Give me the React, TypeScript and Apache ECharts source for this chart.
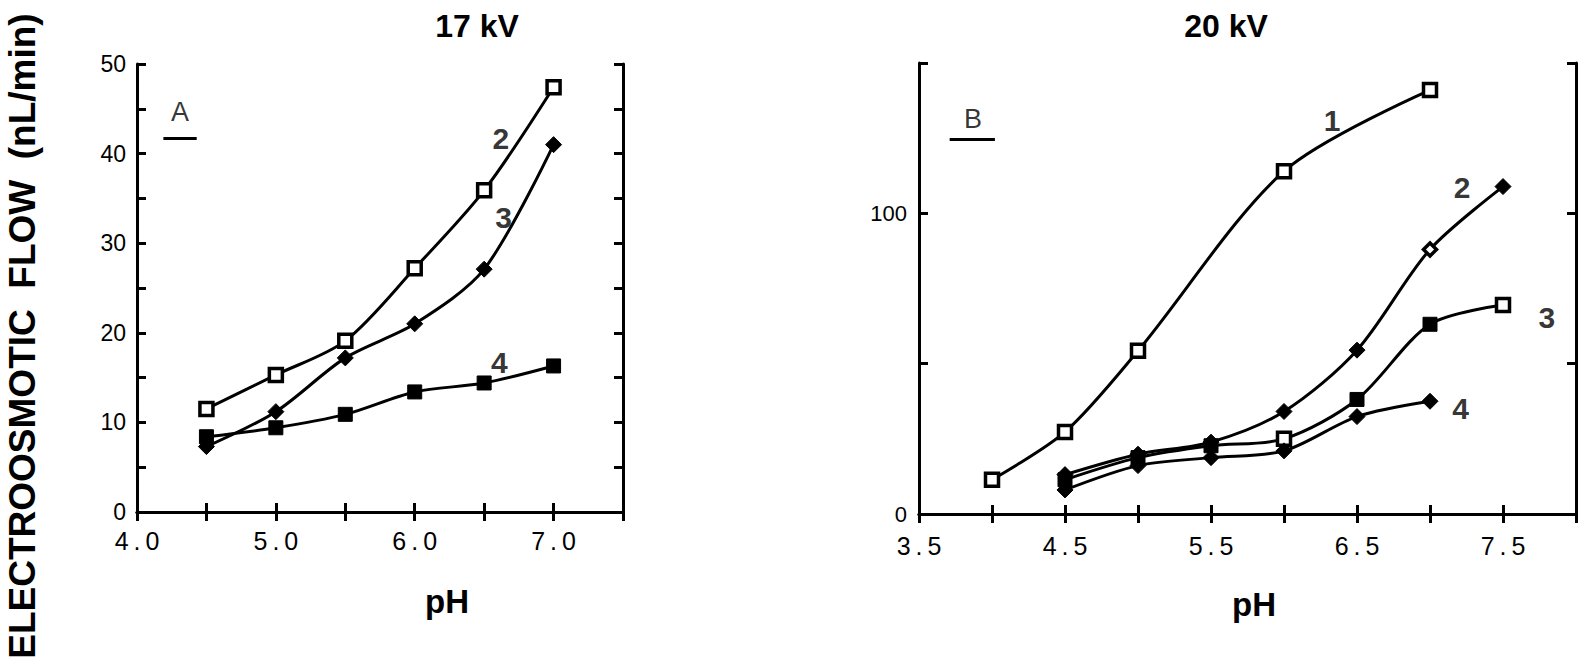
import React, { useEffect, useRef } from "react";
import * as echarts from "echarts";

// ---------- Data ----------
// Panel A (17 kV)
const pHA = [4.5, 5.0, 5.5, 6.0, 6.5, 7.0];
const flowA2 = [11.5, 15.3, 19.1, 27.2, 35.9, 47.4];
const flowA3 = [7.3, 11.2, 17.2, 21.0, 27.1, 41.0];
const flowA4 = [8.4, 9.4, 10.9, 13.4, 14.4, 16.3];

// Panel B (20 kV)
const pHB1 = [4.0, 4.5, 5.0, 6.0, 7.0];
const flowB1 = [11.4, 27.3, 54.3, 114, 141];
const pHB23 = [4.5, 5.0, 5.5, 6.0, 6.5, 7.0, 7.5];
const flowB2 = [13.1, 19.9, 23.9, 34.1, 54.5, 88, 108.9];
const openB2 = [5]; // hollow marker on curve 2
const flowB3 = [11.4, 18.75, 22.7, 25.0, 38.1, 63.1, 69.5];
const openB3 = [3, 6]; // hollow markers on curve 3
const pHB4 = [4.5, 5.0, 5.5, 6.0, 6.5, 7.0];
const flowB4 = [8.0, 16.1, 18.75, 21.0, 32.4, 37.5];

// Curve labels (data coordinates)
const labelsA = [
  { name: "2", pos: [6.62, 41.7] },
  { name: "3", pos: [6.64, 32.9] },
  { name: "4", pos: [6.61, 16.7] },
];
const labelsB = [
  { name: "1", pos: [6.33, 131] },
  { name: "2", pos: [7.22, 108.5] },
  { name: "3", pos: [7.8, 65.3] },
  { name: "4", pos: [7.21, 35.2] },
];
const panelTagA = { name: "A", pos: [4.31, 44.6], line: [4.19, 4.43, 41.7] };
const panelTagB = { name: "B", pos: [3.87, 131.5], line: [3.71, 4.02, 124.6] };

const titleA = "17 kV";
const titleB = "20 kV";
const xTitle = "pH";
const yTitle = "ELECTROOSMOTIC  FLOW  (nL/min)";

const FONT = "Liberation Sans";

function pts(xs: number[], ys: number[], open: number[] = [], openSymbol = "rect", openSize?: number) {
  return xs.map((x, i) =>
    open.indexOf(i) >= 0
      ? {
          value: [x, ys[i]],
          symbol: openSymbol,
          symbolSize: openSize,
          itemStyle: { color: "#fff", borderColor: "#000", borderWidth: 3.5 },
        }
      : { value: [x, ys[i]] }
  );
}

export default function App() {
  const ref = useRef<HTMLDivElement>(null);

  useEffect(() => {
    if (!ref.current) return;
    const chart = echarts.init(ref.current, undefined, { renderer: "svg" });

    const axisLine = { show: true, lineStyle: { color: "#000", width: 3 } };
    const tick = { show: true, inside: true, length: 9, lineStyle: { color: "#000", width: 3 } };

    const lineSeries = (
      name: string,
      xi: number,
      yi: number,
      data: any[],
      symbol: string,
      open: boolean,
      size: number
    ) => ({
      name,
      type: "line",
      xAxisIndex: xi,
      yAxisIndex: yi,
      data,
      smooth: 0.3,
      symbol,
      symbolSize: size,
      showSymbol: true,
      lineStyle: { color: "#000", width: 3 },
      itemStyle: open
        ? { color: "#fff", borderColor: "#000", borderWidth: 3.5 }
        : { color: "#000", borderColor: "#000", borderWidth: 1 },
      z: 3,
    });

    const annot = (
      xi: number,
      yi: number,
      items: { name: string; pos: number[] }[],
      tag: { name: string; pos: number[]; line: number[] }
    ) => [
      {
        type: "scatter",
        xAxisIndex: xi,
        yAxisIndex: yi,
        symbolSize: 1,
        itemStyle: { color: "rgba(0,0,0,0)" },
        data: items.map((it) => ({ name: it.name, value: it.pos })),
        label: {
          show: true,
          position: "inside",
          formatter: "{b}",
          color: "#000",
          textBorderWidth: 0,
          fontFamily: FONT,
          fontWeight: "bold",
          fontSize: 30,
        },
        silent: true,
      },
      {
        type: "scatter",
        xAxisIndex: xi,
        yAxisIndex: yi,
        symbolSize: 1,
        itemStyle: { color: "rgba(0,0,0,0)" },
        data: [{ name: tag.name, value: tag.pos }],
        label: {
          show: true,
          position: "inside",
          formatter: "{b}",
          color: "#000",
          textBorderWidth: 0,
          fontFamily: FONT,
          fontSize: 27,
        },
        markLine: {
          silent: true,
          symbol: ["none", "none"],
          label: { show: false },
          lineStyle: { color: "#000", width: 3, type: "solid" },
          data: [[{ coord: [tag.line[0], tag.line[2]] }, { coord: [tag.line[1], tag.line[2]] }]],
        },
        silent: true,
      },
    ];

    const option: any = {
      animation: false,
      backgroundColor: "#fff",
      grid: [
        { left: 137, top: 64, width: 486, height: 448 },
        { left: 919, top: 63, width: 657, height: 451 },
      ],
      xAxis: [
        {
          type: "value",
          gridIndex: 0,
          min: 4,
          max: 7.5,
          interval: 0.5,
          axisLine,
          axisTick: tick,
          splitLine: { show: false },
          axisLabel: {
            margin: 16,
            color: "#000",
            fontFamily: FONT,
            fontSize: 25,
            formatter: (v: number) =>
              Math.abs(v - Math.round(v)) < 1e-6 && v < 7.5 ? v.toFixed(1).split("").join("\u2009") : "",
          },
        },
        {
          type: "value",
          gridIndex: 0,
          position: "top",
          min: 4,
          max: 7.5,
          interval: 0.5,
          axisLine,
          axisTick: tick,
          splitLine: { show: false },
          axisLabel: { show: false },
        },
        {
          type: "value",
          gridIndex: 1,
          min: 3.5,
          max: 8,
          interval: 0.5,
          axisLine,
          axisTick: tick,
          splitLine: { show: false },
          axisLabel: {
            margin: 19,
            color: "#000",
            fontFamily: FONT,
            fontSize: 25,
            formatter: (v: number) => {
              const d = v - 3.5;
              return Math.abs(d - Math.round(d)) < 1e-6 && v < 8 ? v.toFixed(1).split("").join("\u2009") : "";
            },
          },
        },
        {
          type: "value",
          gridIndex: 1,
          position: "top",
          min: 3.5,
          max: 8,
          interval: 0.5,
          axisLine,
          axisTick: tick,
          splitLine: { show: false },
          axisLabel: { show: false },
        },
      ],
      yAxis: [
        {
          type: "value",
          gridIndex: 0,
          min: 0,
          max: 50,
          interval: 5,
          axisLine,
          axisTick: tick,
          splitLine: { show: false },
          axisLabel: {
            margin: 11,
            color: "#000",
            fontFamily: FONT,
            fontSize: 23,
            formatter: (v: number) => (v % 10 === 0 ? String(v) : ""),
          },
        },
        {
          type: "value",
          gridIndex: 0,
          position: "right",
          min: 0,
          max: 50,
          interval: 5,
          axisLine,
          axisTick: tick,
          splitLine: { show: false },
          axisLabel: { show: false },
        },
        {
          type: "value",
          gridIndex: 1,
          min: 0,
          max: 150,
          interval: 50,
          axisLine,
          axisTick: tick,
          splitLine: { show: false },
          axisLabel: {
            margin: 12,
            color: "#000",
            fontFamily: FONT,
            fontSize: 22,
            formatter: (v: number) => (v === 0 || v === 100 ? String(v) : ""),
          },
        },
        {
          type: "value",
          gridIndex: 1,
          position: "right",
          min: 0,
          max: 150,
          interval: 50,
          axisLine,
          axisTick: tick,
          splitLine: { show: false },
          axisLabel: { show: false },
        },
      ],
      series: [
        lineSeries("A2", 0, 0, pts(pHA, flowA2), "rect", true, 13),
        lineSeries("A3", 0, 0, pts(pHA, flowA3), "diamond", false, 16),
        lineSeries("A4", 0, 0, pts(pHA, flowA4), "rect", false, 14),
        lineSeries("B1", 2, 2, pts(pHB1, flowB1), "rect", true, 13),
        lineSeries("B2", 2, 2, pts(pHB23, flowB2, openB2, "diamond", 13), "diamond", false, 16),
        lineSeries("B3", 2, 2, pts(pHB23, flowB3, openB3, "rect", 13), "rect", false, 14),
        lineSeries("B4", 2, 2, pts(pHB4, flowB4), "diamond", false, 16),
        ...annot(0, 0, labelsA, panelTagA),
        ...annot(2, 2, labelsB, panelTagB),
      ],
      graphic: [
        {
          type: "text",
          x: 477,
          y: 26,
          style: { text: titleA, font: `bold 32px "${FONT}"`, fill: "#000", align: "center", verticalAlign: "middle" },
        },
        {
          type: "text",
          x: 1226,
          y: 26,
          style: { text: titleB, font: `bold 32px "${FONT}"`, fill: "#000", align: "center", verticalAlign: "middle" },
        },
        {
          type: "text",
          x: 447,
          y: 601,
          style: { text: xTitle, font: `bold 33px "${FONT}"`, fill: "#000", align: "center", verticalAlign: "middle" },
        },
        {
          type: "text",
          x: 1254,
          y: 604,
          style: { text: xTitle, font: `bold 33px "${FONT}"`, fill: "#000", align: "center", verticalAlign: "middle" },
        },
        {
          type: "text",
          x: 22,
          y: 336,
          rotation: Math.PI / 2,
          style: { text: yTitle, font: `bold 37px "${FONT}"`, fill: "#000", align: "center", verticalAlign: "middle" },
        },
      ],
    };

    chart.setOption(option);
    return () => chart.dispose();
  }, []);

  return (
    <div
      ref={ref}
      style={{ position: "fixed", left: 0, top: 0, width: 1583, height: 661, background: "#fff" }}
    />
  );
}
